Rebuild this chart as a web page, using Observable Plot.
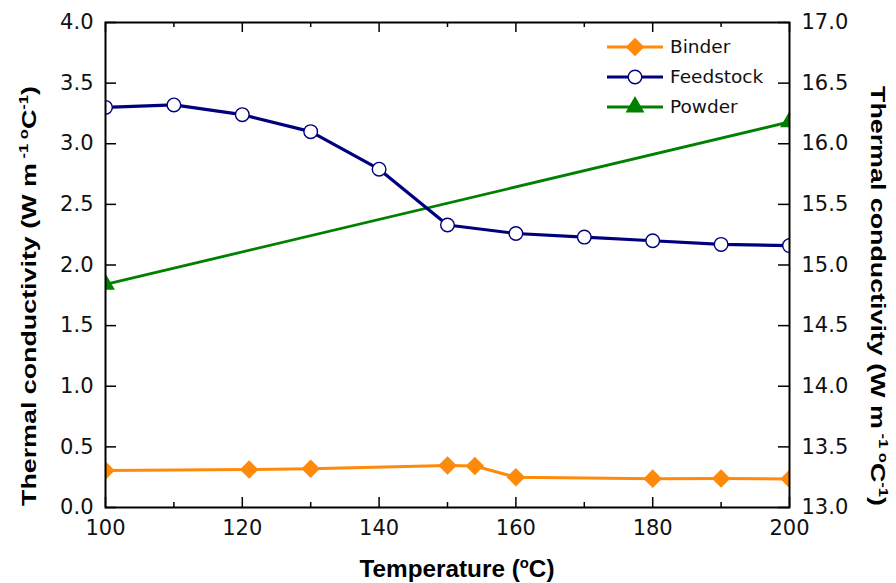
<!DOCTYPE html>
<html>
<head>
<meta charset="utf-8">
<script src="https://cdn.jsdelivr.net/npm/d3@7"></script>
<script src="https://cdn.jsdelivr.net/npm/@observablehq/plot@0.6"></script>
<style>
  html, body { margin: 0; padding: 0; background: #fff; }
  #chart { width: 896px; height: 583px; }
</style>
</head>
<body>
<div id="chart"></div>
<script>
// ---- data ----
const binderTemp = [100, 121, 130, 150, 154, 160, 180, 190, 200];
const binderK    = [0.305, 0.313, 0.32, 0.347, 0.342, 0.25, 0.238, 0.24, 0.236];
const feedTemp   = [100, 110, 120, 130, 140, 150, 160, 170, 180, 190, 200];
const feedK      = [3.30, 3.32, 3.24, 3.10, 2.79, 2.33, 2.26, 2.23, 2.20, 2.17, 2.16];
const powderTemp = [100, 200];
const powderK    = [14.84, 16.18];   // right axis
const xTicks      = [100, 120, 140, 160, 180, 200];
const xMinorTicks = [110, 130, 150, 170, 190];
const yTicks      = [0, 0.5, 1, 1.5, 2, 2.5, 3, 3.5, 4];
const y2Ticks     = [13, 13.5, 14, 14.5, 15, 15.5, 16, 16.5, 17];
const seriesNames = ["Binder", "Feedstock", "Powder"];
const colors = {Binder: "#ff8a0a", Feedstock: "#00007f", Powder: "#008000"};

const yDomain = [0, 4], y2Domain = [13, 17];
const toLeft = v => yDomain[0] + (v - y2Domain[0]) / (y2Domain[1] - y2Domain[0]) * (yDomain[1] - yDomain[0]);

const binder = binderTemp.map((t, i) => ({t, k: binderK[i]}));
const feed = feedTemp.map((t, i) => ({t, k: feedK[i]}));
const powder = powderTemp.map((t, i) => ({t, k: toLeft(powderK[i])}));

const W = 896, H = 583, mL = 105, mR = 107, mT = 22, mB = 76;
const pw = W - mL - mR, ph = H - mT - mB;

const chart = Plot.plot({
  width: W, height: H,
  marginLeft: mL, marginRight: mR, marginTop: mT, marginBottom: mB,
  style: {fontFamily: "DejaVu Sans", fontSize: "21px", background: "#fff", overflow: "visible"},
  x: {domain: [100, 200]},
  y: {domain: yDomain},
  marks: [
    // inward ticks
    Plot.tickX(xTicks, {x: d => d, insetTop: ph - 10, stroke: "#000", strokeWidth: 1.5}),
    Plot.tickX(xMinorTicks, {x: d => d, insetTop: ph - 5, stroke: "#000", strokeWidth: 1.5}),
    Plot.tickX(xTicks, {x: d => d, insetBottom: ph - 10, stroke: "#000", strokeWidth: 1.5}),
    Plot.tickX(xMinorTicks, {x: d => d, insetBottom: ph - 5, stroke: "#000", strokeWidth: 1.5}),
    Plot.tickY(yTicks, {y: d => d, insetRight: pw - 11, stroke: "#000", strokeWidth: 1.5}),
    Plot.tickY(y2Ticks.map(toLeft), {y: d => d, insetLeft: pw - 11, stroke: "#000", strokeWidth: 1.5}),
    // tick labels
    Plot.axisX(xTicks, {anchor: "bottom", tickSize: 0, tickPadding: 13, tickFormat: d => String(d), label: null, fill: "#111"}),
    Plot.axisY(yTicks, {anchor: "left", tickSize: 0, tickPadding: 12, tickFormat: d => d.toFixed(1), label: null, fill: "#111"}),
    Plot.axisY(y2Ticks.map(toLeft), {anchor: "right", tickSize: 0, tickPadding: 12, tickFormat: (d, i) => y2Ticks[i].toFixed(1), label: null, fill: "#111"}),
    // series
    Plot.line(powder, {x: "t", y: "k", stroke: colors.Powder, strokeWidth: 2.8, clip: true}),
    Plot.dot(powder, {x: "t", y: "k", symbol: "triangle", r: 7, fill: colors.Powder, clip: true}),
    Plot.line(feed, {x: "t", y: "k", stroke: colors.Feedstock, strokeWidth: 3.2, clip: true}),
    Plot.dot(feed, {x: "t", y: "k", symbol: "circle", r: 6.8, fill: "#fff", stroke: colors.Feedstock, strokeWidth: 1.4, clip: true}),
    Plot.line(binder, {x: "t", y: "k", stroke: colors.Binder, strokeWidth: 3, clip: true}),
    Plot.dot(binder, {x: "t", y: "k", symbol: "square", rotate: 45, r: 7.4, fill: colors.Binder, clip: true}),
    Plot.frame({stroke: "#000", strokeWidth: 2})
  ]
});
document.getElementById("chart").appendChild(chart);

// ---- titles and legend ----
const svg = d3.select(chart);
const titleFont = "'Liberation Sans Narrow', 'Arial Narrow', 'Liberation Sans', Arial, sans-serif";

function kTitle(g) {
  const t = g.append("text")
    .attr("text-anchor", "middle")
    .attr("font-family", titleFont).attr("font-weight", "bold").attr("font-size", 21)
    .attr("fill", "#000")
    .attr("textLength", 420).attr("lengthAdjust", "spacingAndGlyphs");
  t.append("tspan").text("Thermal conductivity (W m");
  t.append("tspan").attr("font-size", 13).attr("dy", -8).text(" -1");
  t.append("tspan").attr("font-size", 13).attr("dy", 0).text(" o");
  t.append("tspan").attr("font-size", 21).attr("dy", 8).text("C");
  t.append("tspan").attr("font-size", 13).attr("dy", -8).text("-1");
  t.append("tspan").attr("font-size", 21).attr("dy", 8).text(")");
}
kTitle(svg.append("g").attr("transform", `translate(36,296) rotate(-90)`));
kTitle(svg.append("g").attr("transform", `translate(871,296) rotate(90)`));

const xt = svg.append("text")
  .attr("x", 457).attr("y", 577)
  .attr("text-anchor", "middle")
  .attr("font-family", titleFont).attr("font-weight", "bold").attr("font-size", 23)
  .attr("fill", "#000")
  .attr("textLength", 195).attr("lengthAdjust", "spacingAndGlyphs");
xt.append("tspan").text("Temperature (");
xt.append("tspan").attr("font-size", 14).attr("dy", -9).text("o");
xt.append("tspan").attr("dy", 9).text("C)");

// legend
const legY = [47, 77, 107];
const lg = svg.append("g").attr("text-anchor", "start");
seriesNames.forEach((name, i) => {
  const y = legY[i];
  lg.append("line").attr("x1", 607).attr("x2", 663).attr("y1", y).attr("y2", y)
    .attr("stroke", colors[name]).attr("stroke-width", name === "Powder" ? 2.8 : 3);
  let path;
  if (name === "Binder") path = d3.symbol(d3.symbolSquare, Math.PI * 7.4 * 7.4)();
  else if (name === "Feedstock") path = d3.symbol(d3.symbolCircle, Math.PI * 6.8 * 6.8)();
  else path = d3.symbol(d3.symbolTriangle, Math.PI * 7 * 7)();
  lg.append("path").attr("d", path)
    .attr("transform", `translate(635,${y})` + (name === "Binder" ? " rotate(45)" : ""))
    .attr("fill", name === "Feedstock" ? "#fff" : colors[name])
    .attr("stroke", name === "Feedstock" ? colors[name] : "none")
    .attr("stroke-width", 1.4);
  lg.append("text").attr("x", 670).attr("y", y).attr("dy", "0.35em")
    .attr("text-anchor", "start")
    .attr("font-family", "DejaVu Sans").attr("font-size", 18.5).attr("fill", "#111")
    .text(name);
});
</script>
</body>
</html>
